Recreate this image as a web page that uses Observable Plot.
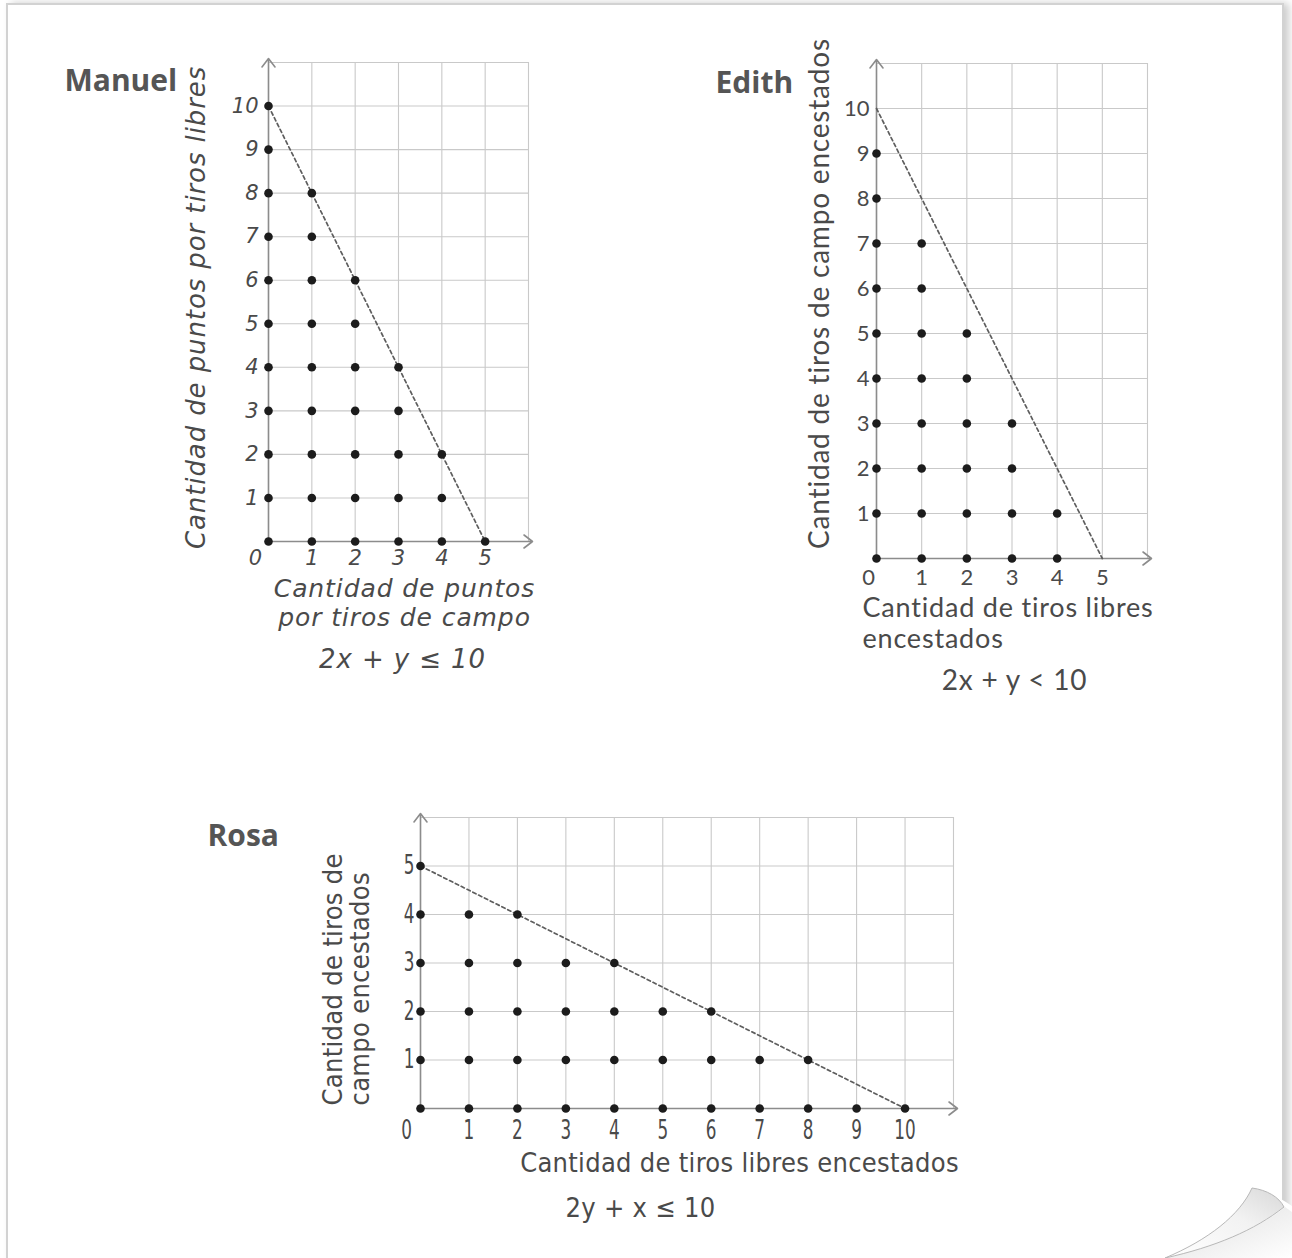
<!DOCTYPE html>
<html>
<head>
<meta charset="utf-8">
<script src="https://cdn.jsdelivr.net/npm/d3@7"></script>
<script src="https://cdn.jsdelivr.net/npm/@observablehq/plot@0.6"></script>
<style>
html, body { margin: 0; padding: 0; background: #fff; overflow: hidden; }
#page { position: relative; width: 1292px; height: 1258px; overflow: hidden; background: #fff; }
.sheet { position: absolute; left: 6px; top: 3px; width: 1274px; height: 1400px;
  border: 2px solid #d2d2d2; box-shadow: 5px 0 8px rgba(0,0,0,0.20); background: #fff; }
.layer { position: absolute; left: 0; top: 0; }
.layer svg { overflow: visible; }
#curl { position: absolute; left: 0; top: 0; }
</style>
</head>
<body>
<div id="page">
  <div class="sheet"></div>
</div>
<script>
// ---------------- DATA ----------------
// Manuel: 2x + y <= 10 (x = puntos por tiros de campo, y = puntos por tiros libres)
const manuelName = "Manuel";
const manuelXTicks = [0, 1, 2, 3, 4, 5];
const manuelYTicks = [1, 2, 3, 4, 5, 6, 7, 8, 9, 10];
const manuelColumnTops = [10, 8, 6, 4, 2, 0];          // dots at y = 0..top for x = 0..5
const manuelBoundary = [{x: 0, y: 10}, {x: 5, y: 0}];
const manuelYTitle = "Cantidad de puntos por tiros libres";
const manuelXTitle = "Cantidad de puntos\npor tiros de campo";
const manuelFormula = "2x + y ≤ 10";

// Edith: 2x + y < 10
const edithName = "Edith";
const edithXTicks = [0, 1, 2, 3, 4, 5];
const edithYTicks = [1, 2, 3, 4, 5, 6, 7, 8, 9, 10];
const edithColumnTops = [9, 7, 5, 3, 1];               // dots at y = 0..top for x = 0..4
const edithBoundary = [{x: 0, y: 10}, {x: 5, y: 0}];
const edithYTitle = "Cantidad de tiros de campo encestados";
const edithXTitle = "Cantidad de tiros libres\nencestados";
const edithFormula = "2x + y < 10";

// Rosa: 2y + x <= 10
const rosaName = "Rosa";
const rosaXTicks = [0, 1, 2, 3, 4, 5, 6, 7, 8, 9, 10];
const rosaYTicks = [1, 2, 3, 4, 5];
const rosaRowEnds = [10, 8, 6, 4, 2, 0];               // dots at x = 0..end for y = 0..5
const rosaBoundary = [{x: 0, y: 5}, {x: 10, y: 0}];
const rosaYTitle = "Cantidad de tiros de\ncampo encestados";
const rosaXTitle = "Cantidad de tiros libres encestados";
const rosaFormula = "2y + x ≤ 10";

// ---------------- STYLE ----------------
const W = 1292, H = 1258;
const INK = "#4a4a4a";
const NAMEFONT = "'Open Sans', 'Noto Sans', sans-serif";
const F_MANUEL = "'DejaVu Sans', sans-serif";
const F_EDITH = "Lato, 'Noto Sans', sans-serif";
const F_ROSA = "'Liberation Sans Narrow', 'DejaVu Sans Condensed', 'Liberation Sans', sans-serif";

function chart(c) {
  const pts = [];
  c.counts.forEach((top, i) => {
    for (let j = 0; j <= top; j++) pts.push(c.rowWise ? {x: j, y: i} : {x: i, y: j});
  });
  const f = c.frame;
  const T = (txt, X, Y, opt) => Plot.text([txt], {
    text: d => d, frameAnchor: "top-left", dx: X - f.left, dy: Y - f.top,
    fill: INK, textAnchor: "middle", lineAnchor: "middle", ...opt
  });
  const tickFont = {fontFamily: c.font, fontStyle: c.italic ? "italic" : "normal", fontSize: c.tickSize, fill: INK,
    ariaDescription: "sx" + (c.tickScale || 1)};
  const titleFont = {fontFamily: c.font, fontStyle: c.italic ? "italic" : "normal", fill: INK,
    ariaDescription: "sp" + c.spacing};
  const xTicks = c.xTicks.filter(d => d !== 0);
  const xZero = c.xTicks.filter(d => d === 0);
  return Plot.plot({
    width: W, height: H,
    marginLeft: f.left, marginRight: W - f.right, marginTop: f.top, marginBottom: H - f.bottom,
    x: {domain: [0, c.xMax], axis: null},
    y: {domain: [0, c.yMax], axis: null},
    style: {background: "transparent", overflow: "visible"},
    marks: [
      Plot.gridX(d3.range(0, c.xMax + 1), {stroke: "#c9c9c9", strokeOpacity: 1, strokeWidth: 1.1}),
      Plot.gridY(d3.range(0, c.yMax + 1), {stroke: "#c9c9c9", strokeOpacity: 1, strokeWidth: 1.1}),
      Plot.arrow([{x1: 0, y1: 0, x2: 0, y2: c.yMax}], {x1: "x1", y1: "y1", x2: "x2", y2: "y2",
        stroke: "#8c8c8c", strokeWidth: 1.6, headLength: 10, headAngle: 75, insetEnd: -4}),
      Plot.arrow([{x1: 0, y1: 0, x2: c.xMax, y2: 0}], {x1: "x1", y1: "y1", x2: "x2", y2: "y2",
        stroke: "#8c8c8c", strokeWidth: 1.6, headLength: 10, headAngle: 75, insetEnd: -4}),
      Plot.line(c.boundary, {x: "x", y: "y", stroke: "#5e5e5e", strokeWidth: 1.7, strokeDasharray: "3.5,3"}),
      Plot.dot(pts, {x: "x", y: "y", r: 4.3, fill: "#1c1c1c", stroke: "none"}),
      Plot.text(c.yTicks, {x: 0, y: d => d, text: d => String(d), dx: c.ydx, textAnchor: "end", ...tickFont}),
      Plot.text(xTicks, {x: d => d, y: 0, text: d => String(d), dy: c.xdy, ...tickFont}),
      Plot.text(xZero, {x: d => d, y: 0, text: d => String(d), dy: c.xdy, dx: c.zeroDx, ...tickFont}),
      T(c.name, c.nameAt[0], c.nameAt[1], {fontFamily: NAMEFONT, fontWeight: 700, fontSize: 30, fill: "#555", textAnchor: "start"}),
      T(c.yTitle, c.yTitleAt[0], c.yTitleAt[1], {...titleFont, rotate: -90, fontSize: c.yTitleSize,
        textAnchor: c.yTitleAnchor, lineHeight: c.yTitleLH}),
      T(c.xTitle, c.xTitleAt[0], c.xTitleAt[1], {...titleFont, fontSize: c.xTitleSize,
        textAnchor: c.xTitleAnchor, lineHeight: c.xTitleLH}),
      T(c.formula, c.formulaAt[0], c.formulaAt[1], {...titleFont, fontSize: c.formulaSize})
    ]
  });
}

const charts = [
  chart({
    name: manuelName, nameAt: [64, 81],
    frame: {left: 268, top: 62, right: 528, bottom: 541}, xMax: 6, yMax: 11,
    counts: manuelColumnTops, rowWise: false,
    xTicks: manuelXTicks, yTicks: manuelYTicks, boundary: manuelBoundary,
    font: F_MANUEL, italic: true, tickSize: 21, ydx: -10, xdy: 17, zeroDx: -13, spacing: 0.9,
    yTitle: manuelYTitle, yTitleAt: [196, 307], yTitleSize: 26, yTitleAnchor: "middle", yTitleLH: 1,
    xTitle: manuelXTitle, xTitleAt: [404, 602], xTitleSize: 25, xTitleAnchor: "middle", xTitleLH: 1.16,
    formula: manuelFormula, formulaAt: [402, 659], formulaSize: 26
  }),
  chart({
    name: edithName, nameAt: [715, 83],
    frame: {left: 876, top: 63, right: 1147, bottom: 558}, xMax: 6, yMax: 11,
    counts: edithColumnTops, rowWise: false,
    xTicks: edithXTicks, yTicks: edithYTicks, boundary: edithBoundary,
    font: F_EDITH, italic: false, tickSize: 22, ydx: -7, xdy: 19, zeroDx: -8, spacing: 0.8,
    yTitle: edithYTitle, yTitleAt: [820, 293], yTitleSize: 28, yTitleAnchor: "middle", yTitleLH: 1,
    xTitle: edithXTitle, xTitleAt: [862, 622], xTitleSize: 27, xTitleAnchor: "start", xTitleLH: 1.15,
    formula: edithFormula, formulaAt: [1014, 681], formulaSize: 28
  }),
  chart({
    name: rosaName, nameAt: [207, 836],
    frame: {left: 420, top: 817, right: 953, bottom: 1108}, xMax: 11, yMax: 6,
    counts: rosaRowEnds, rowWise: true,
    xTicks: rosaXTicks, yTicks: rosaYTicks, boundary: rosaBoundary,
    font: F_ROSA, italic: false, tickSize: 26, ydx: -6, xdy: 22, zeroDx: -14, spacing: 0.3, tickScale: 0.72,
    yTitle: rosaYTitle, yTitleAt: [346, 1105], yTitleSize: 27, yTitleAnchor: "start", yTitleLH: 1.02,
    xTitle: rosaXTitle, xTitleAt: [739, 1163], xTitleSize: 27, xTitleAnchor: "middle", xTitleLH: 1,
    formula: rosaFormula, formulaAt: [640, 1208], formulaSize: 27
  })
];

const page = document.getElementById("page");
for (const svg of charts) {
  // handwritten-look letter spacing for titles and formulas
  d3.select(svg).selectAll("g[aria-description^='sp']").each(function() {
    const v = this.getAttribute("aria-description").slice(2);
    d3.select(this).selectAll("text").attr("letter-spacing", v);
  });
  // horizontally narrow tick digits (Rosa's condensed handwriting)
  d3.select(svg).selectAll("g[aria-description^='sx']").each(function() {
    const s = +this.getAttribute("aria-description").slice(2);
    if (!(s > 0) || s === 1) return;
    d3.select(this).selectAll("text").each(function() {
      const t = d3.select(this);
      const tr = t.attr("transform") || "";
      t.attr("transform", tr + ` scale(${s},1)`);
    });
  });
  const wrap = document.createElement("div");
  wrap.className = "layer";
  wrap.appendChild(svg);
  page.appendChild(wrap);
}

// decorative page curl (bottom-right corner of the sheet)
const curl = d3.select(page).append("svg").attr("id", "curl").attr("width", W).attr("height", H);
const defs = curl.append("defs");
const g1 = defs.append("linearGradient").attr("id", "curlGrad").attr("x1", "0").attr("y1", "1").attr("x2", "1").attr("y2", "0");
g1.append("stop").attr("offset", "0").attr("stop-color", "#ffffff");
g1.append("stop").attr("offset", "0.6").attr("stop-color", "#f2f2f2");
g1.append("stop").attr("offset", "1").attr("stop-color", "#d8d8d8");
const g2 = defs.append("linearGradient").attr("id", "shadowGrad").attr("x1", "0").attr("y1", "0").attr("x2", "1").attr("y2", "1");
g2.append("stop").attr("offset", "0").attr("stop-color", "#cfcfcf");
g2.append("stop").attr("offset", "1").attr("stop-color", "#ffffff");
curl.append("path")
  .attr("d", "M1150,1258 C1205,1238 1240,1215 1252,1188 C1268,1191 1280,1198 1292,1206 L1292,1258 Z")
  .attr("fill", "#fff");
curl.append("path")
  .attr("d", "M1165,1258 C1215,1246 1260,1228 1285,1207 L1292,1212 L1292,1258 Z")
  .attr("fill", "url(#shadowGrad)").attr("opacity", 0.7);
curl.append("path")
  .attr("d", "M1252,1188 C1267,1190 1279,1197 1284,1207 C1255,1230 1215,1247 1165,1258 C1208,1240 1240,1215 1252,1188 Z")
  .attr("fill", "url(#curlGrad)").attr("stroke", "#b8b8b8").attr("stroke-width", 1);
</script>
</body>
</html>
